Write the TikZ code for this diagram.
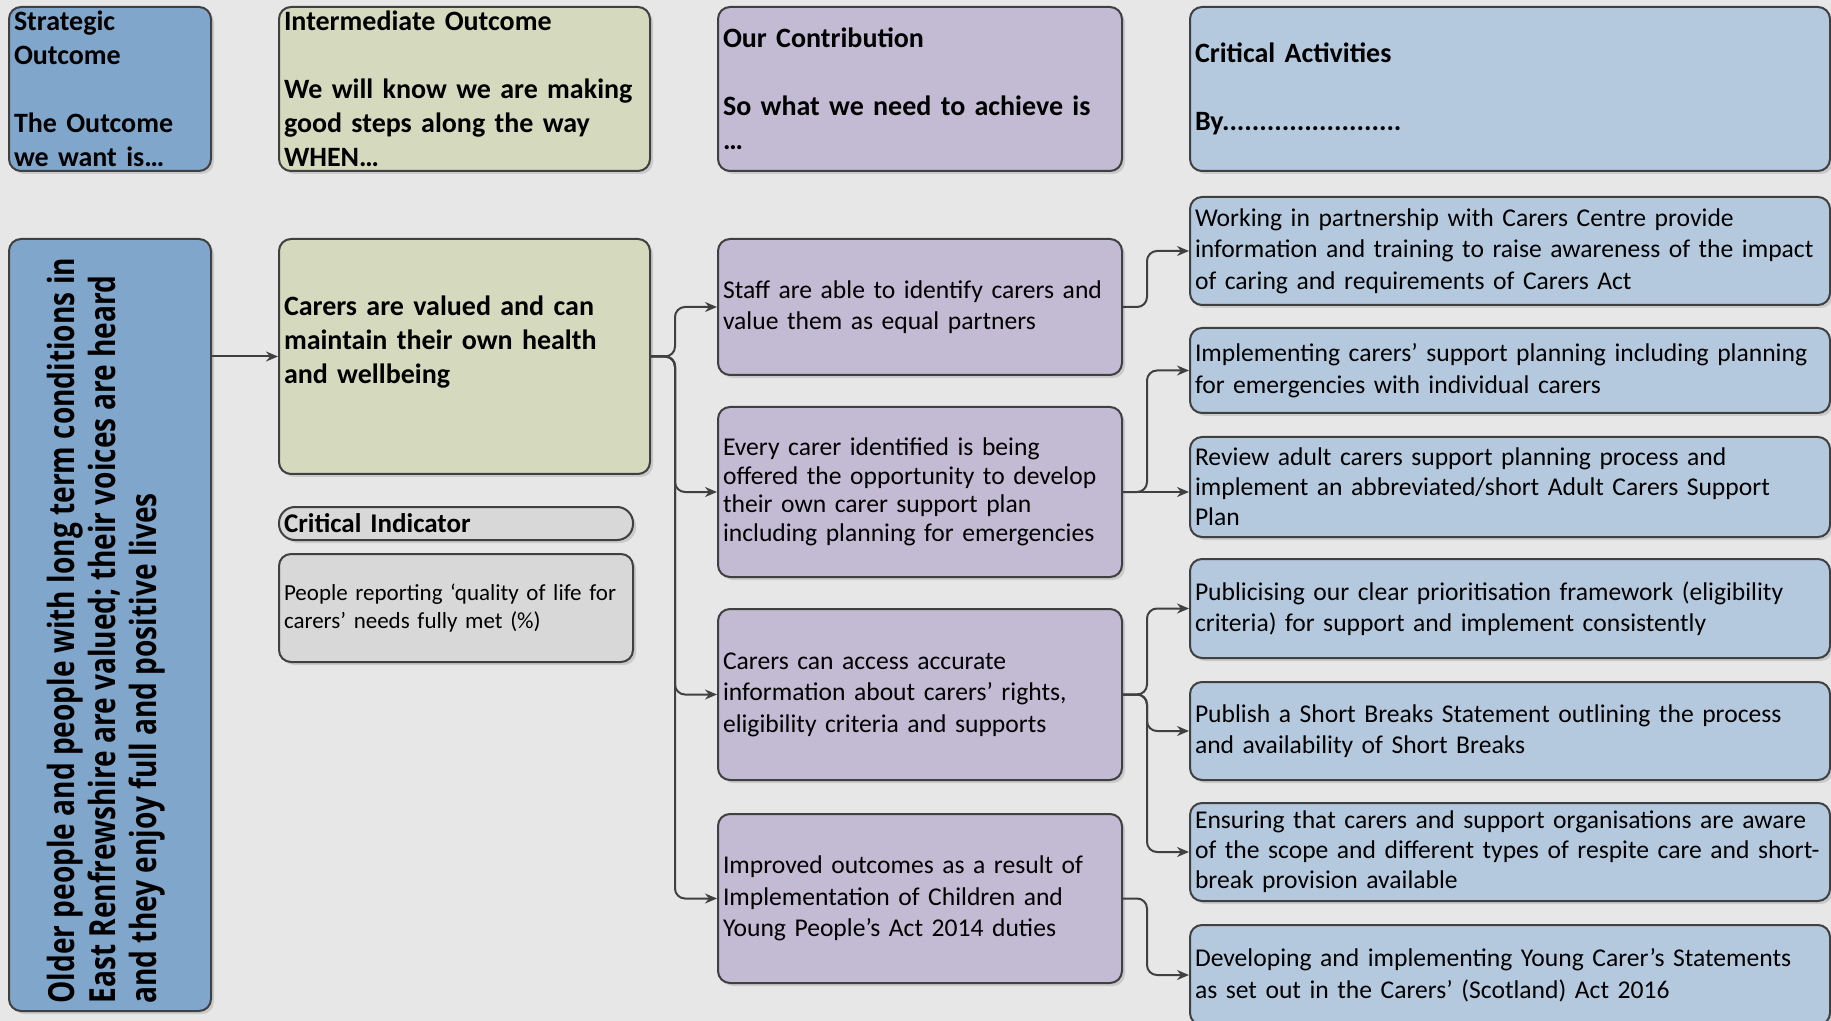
\documentclass[tikz,border=0pt]{standalone}
\usepackage{fontspec}
\setmainfont{Carlito}[WordSpace=0.85]
\newfontfamily\vertfont[FakeStretch=0.78]{Open Sans}
\usetikzlibrary{arrows.meta,shadows}

\definecolor{bggray}{RGB}{231,231,231}
\definecolor{stratblue}{RGB}{128,166,204}
\definecolor{outgreen}{RGB}{213,218,190}
\definecolor{contpurple}{RGB}{195,186,211}
\definecolor{actblue}{RGB}{181,201,222}
\definecolor{indgray}{RGB}{216,216,216}
\definecolor{boxline}{RGB}{64,64,64}

\tikzset{
  box/.style={draw=boxline, line width=1pt, rounded corners=6pt, inner xsep=2.5pt, inner ysep=0pt,
    align=left, anchor=north west,
    drop shadow={shadow xshift=1.5pt, shadow yshift=-1.5pt, opacity=0.12, fill=black}},
  sbox/.style={box, fill=stratblue, minimum width=101pt, text width=96pt},
  gbox/.style={box, fill=outgreen, minimum width=185.5pt, text width=180.5pt},
  pbox/.style={box, fill=contpurple, minimum width=202pt, text width=197pt},
  abox/.style={box, fill=actblue, minimum width=320pt, text width=315pt},
  ibox/.style={box, fill=indgray, minimum width=177pt, text width=172pt},
  hd/.style={font=\fontsize{14}{17}\selectfont\bfseries},
  tx/.style={font=\fontsize{12.8}{15.75}\selectfont},
  link/.style={draw=boxline, line width=1pt, rounded corners=5pt, -{Stealth[length=6pt,width=5pt]}}
}

\begin{document}
\begin{tikzpicture}[x=0.5pt, y=-0.5pt]
\useasboundingbox (0,0) rectangle (1831,1021);
\fill[bggray] (0,0) rectangle (1831,1021);

% column headers
\node[sbox, hd, minimum height=82pt] (sohead) at (8,6) {Strategic\\Outcome\\[17pt]The Outcome\\we want is…};
\node[gbox, hd, minimum height=82pt] (iohead) at (278,6) {Intermediate Outcome\\[17pt]We will know we are making\\good steps along the way\\WHEN…};
\node[pbox, hd, minimum height=82pt] (ochead) at (717,6) {Our Contribution\\[17pt]So what we need to achieve is\\…};
\node[abox, hd, minimum height=82pt] (cahead) at (1189,6) {Critical Activities\\[17pt]By........................};

% strategic outcome
\node[sbox, minimum height=386pt] (outcome) at (8,238) {};
\node[rotate=90, anchor=west, inner sep=0pt, align=left, font=\vertfont\bfseries\fontsize{18}{20.5}\selectfont] (outtext) at (106,1004)
  {Older people and people with long term conditions in\\East Renfrewshire are valued; their voices are heard\\and they enjoy full and positive lives};

% intermediate outcome and indicator
\node[gbox, hd, minimum height=117.5pt] (carers) at (278,238) {Carers are valued and can\\maintain their own health\\and wellbeing\\\mbox{}};
\node[ibox, minimum height=16.5pt, rounded corners=8pt, font=\fontsize{13.5}{16}\selectfont\bfseries] (cihead) at (278,506) {Critical Indicator};
\node[ibox, minimum height=54pt, font=\fontsize{11.5}{14}\selectfont] (cind) at (278,553) {People reporting ‘quality of life for\\carers’ needs fully met (\%)};

% our contribution
\node[pbox, tx, minimum height=68pt] (staff) at (717,238) {Staff are able to identify carers and\\value them as equal partners};
\node[pbox, minimum height=85pt, font=\fontsize{12.8}{14.3}\selectfont] (plan) at (717,406) {Every carer identified is being\\offered the opportunity to develop\\their own carer support plan\\including planning for emergencies};
\node[pbox, tx, minimum height=85.5pt] (info) at (717,608) {Carers can access accurate\\information about carers’ rights,\\eligibility criteria and supports};
\node[pbox, tx, minimum height=84.5pt] (young) at (717,813) {Improved outcomes as a result of\\Implementation of Children and\\Young People’s Act 2014 duties};

% critical activities
\node[abox, tx, minimum height=54pt] (b1) at (1189,196) {Working in partnership with Carers Centre provide\\information and training to raise awareness of the impact\\of caring and requirements of Carers Act};
\node[abox, tx, minimum height=42.5pt] (b2) at (1189,327) {Implementing carers’ support planning including planning\\for emergencies with individual carers};
\node[abox, minimum height=50pt, font=\fontsize{12.8}{15}\selectfont] (b3) at (1189,436) {Review adult carers support planning process and\\implement an abbreviated/short Adult Carers Support\\Plan};
\node[abox, tx, minimum height=49.5pt] (b4) at (1189,558) {Publicising our clear prioritisation framework (eligibility\\criteria) for support and implement consistently};
\node[abox, tx, minimum height=49pt] (b5) at (1189,681) {Publish a Short Breaks Statement outlining the process\\and availability of Short Breaks};
\node[abox, minimum height=49pt, font=\fontsize{12.8}{15}\selectfont] (b6) at (1189,802) {Ensuring that carers and support organisations are aware\\of the scope and different types of respite care and short-\\break provision available};
\node[abox, tx, minimum height=50pt] (b7) at (1189,924) {Developing and implementing Young Carer’s Statements\\as set out in the Carers’ (Scotland) Act 2016};

% connectors
\coordinate (gx) at (675,0);
\coordinate (px) at (1147,0);
\draw[link] (outcome.east |- carers.west) -- (carers.west);
\foreach \t in {staff,plan,info,young} {\draw[link] (carers.east) -- (gx |- carers.east) |- (\t.west);}
\draw[link] (staff.east) -- (px |- staff.east) |- (b1.west);
\draw[link] (plan.east) -- (px |- plan.east) |- (b2.west);
\draw[link] (plan.east) -- (b3.west |- plan.east);
\foreach \t in {b4,b5,b6} {\draw[link] (info.east) -- (px |- info.east) |- (\t.west);}
\draw[link] (young.east) -- (px |- young.east) |- (b7.west);
\end{tikzpicture}
\end{document}
